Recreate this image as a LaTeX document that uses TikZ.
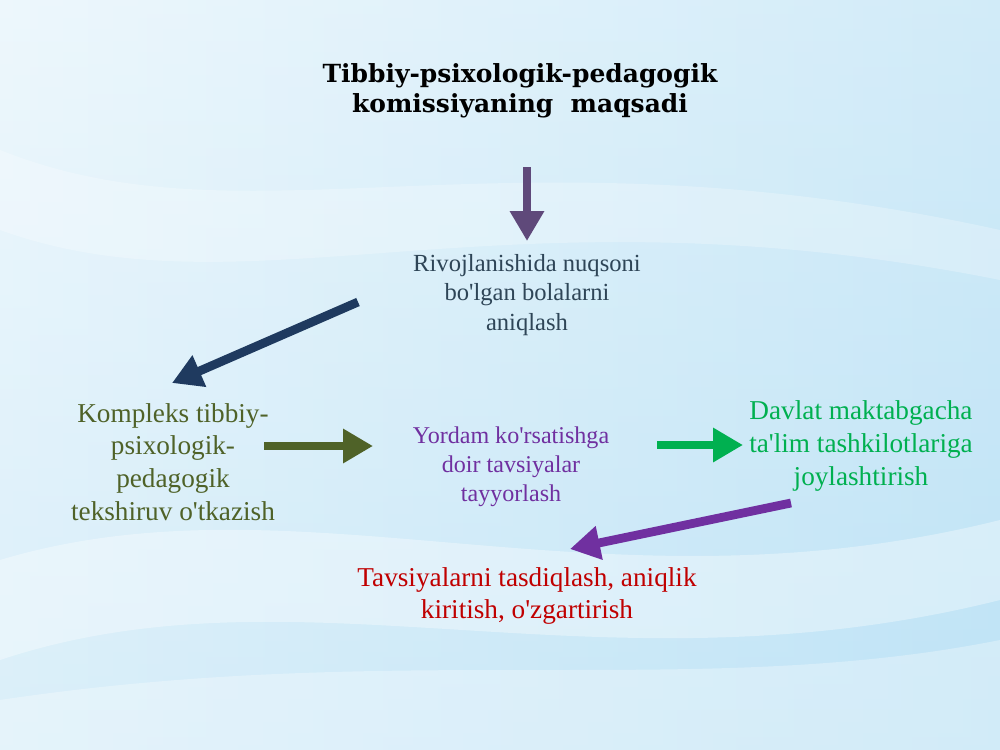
\documentclass[tikz,border=0pt]{standalone}
\usepackage{fontspec}
\setmainfont{Liberation Serif}[Ligatures=TeXOff]
\newfontfamily\titlefont{DejaVu Serif}
\usetikzlibrary{arrows.meta}
\definecolor{bgA}{HTML}{E6F4FB}
\definecolor{bgB}{HTML}{BEE3F6}
\definecolor{cSlate}{HTML}{2E4557}
\definecolor{cOlive}{HTML}{4F6228}
\definecolor{cPurple}{HTML}{7030A0}
\definecolor{cGreen}{HTML}{00B050}
\definecolor{cRed}{HTML}{C00000}
\definecolor{aTop}{HTML}{5F497A}
\definecolor{aNavy}{HTML}{1F3A5F}
\tikzset{
  txt/.style={align=center, inner sep=0pt},
  blockarrow/.style={line width=5pt, -{Triangle[length=17pt,width=18.5pt]}},
}
\begin{document}
\begin{tikzpicture}[x=0.02cm,y=-0.02cm]
\useasboundingbox (0,0) rectangle (1000,750);
% background
\shade[left color=bgA, right color=bgB] (0,0) rectangle (1000,750);
\shade[top color=white, bottom color=bgB, opacity=0.3] (0,0) rectangle (1000,750);
\fill[white, opacity=0.35] (0,560) .. controls (300,470) and (600,620) .. (1000,520) -- (1000,600) .. controls (600,700) and (300,560) .. (0,660) -- cycle;
\fill[white, opacity=0.3] (0,700) .. controls (400,640) and (700,700) .. (1000,640) -- (1000,750) -- (0,750) -- cycle;
\fill[white, opacity=0.25] (0,150) .. controls (250,250) and (500,120) .. (1000,230) -- (1000,280) .. controls (500,180) and (250,320) .. (0,230) -- cycle;

% texts
\node[txt, font=\titlefont\bfseries\fontsize{14.2}{17}\selectfont] (title) at (520,91)
  {Tibbiy-psixologik-pedagogik\\komissiyaning~~maqsadi};
\node[txt, text=cSlate, font=\fontsize{14}{16.7}\selectfont] (aniq) at (527,295)
  {Rivojlanishida nuqsoni\\bo'lgan bolalarni\\aniqlash};
\node[txt, text=cOlive, font=\fontsize{15.5}{18.7}\selectfont] (komp) at (173,462)
  {Kompleks tibbiy-\\psixologik-\\pedagogik\\tekshiruv o'tkazish};
\node[txt, text=cPurple, font=\fontsize{13.7}{16.4}\selectfont] (yord) at (511,467)
  {Yordam ko'rsatishga\\doir tavsiyalar\\tayyorlash};
\node[txt, text=cGreen, font=\fontsize{15.5}{18.7}\selectfont] (davl) at (861,446)
  {Davlat maktabgacha\\ta'lim tashkilotlariga\\joylashtirish};
\node[txt, text=cRed, font=\fontsize{15.5}{18.1}\selectfont] (tasd) at (527,596)
  {Tavsiyalarni tasdiqlash, aniqlik\\kiritish, o'zgartirish};

% arrow end points
\coordinate (a1s) at (527,167);
\coordinate (a1e) at (527,241);
\coordinate (a2s) at (358,302);
\coordinate (a2e) at (172,383);
\coordinate (a3s) at (264,446);
\coordinate (a3e) at (373,446);
\coordinate (a4s) at (657,445);
\coordinate (a4e) at (743,445);
\coordinate (a5s) at (791,503);
\coordinate (a5e) at (570,549);

\draw[blockarrow, aTop] (a1s) -- (a1e);
\draw[blockarrow, aNavy] (a2s) -- (a2e);
\draw[blockarrow, cOlive] (a3s) -- (a3e);
\draw[blockarrow, cGreen] (a4s) -- (a4e);
\draw[blockarrow, cPurple] (a5s) -- (a5e);
\end{tikzpicture}
\end{document}
